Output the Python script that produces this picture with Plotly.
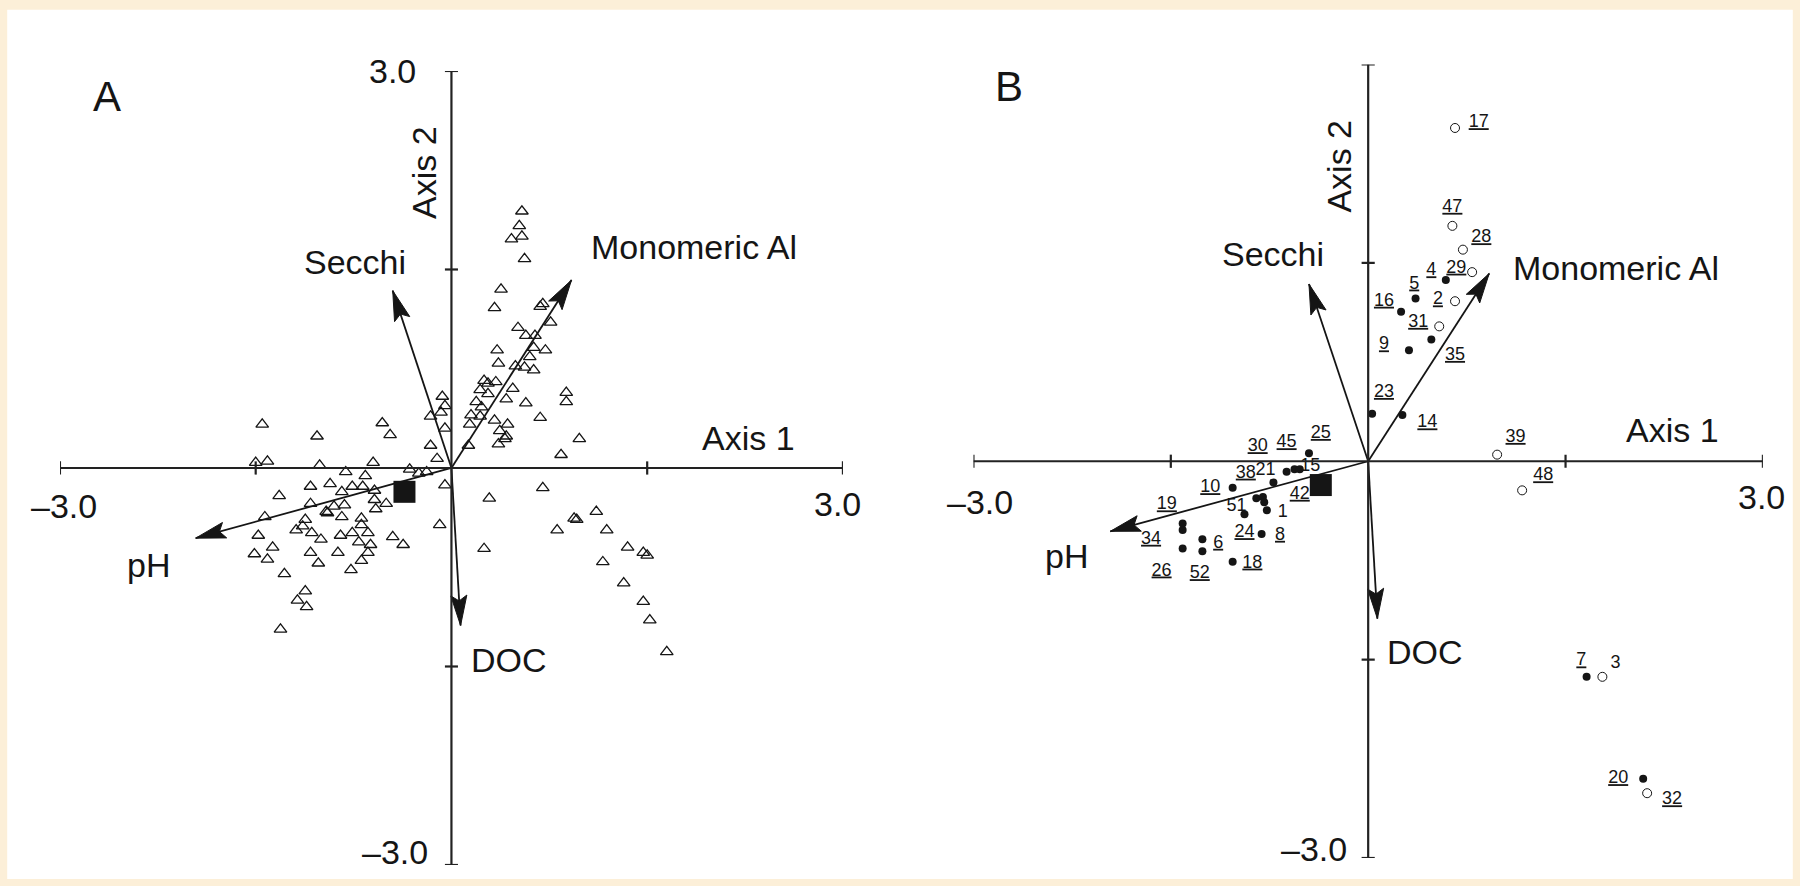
import math
import plotly.graph_objects as go

# ---- panel A: sample sites (triangles) ----
tri_x = [-1.45, -1.03, -0.53, -0.47, -1.50, -1.41, -1.01, -0.60, -0.81, -0.66,
         -0.07, -0.05, -0.08, -0.16, -0.05, -0.16, -0.11, -0.19, -0.32, -0.25,
         -0.05, -0.09, -1.08, -0.93, -1.32, -0.76, -0.68, -0.59, -0.84, -1.08,
         -0.90, -0.82, -0.59, -0.58, -0.95, -0.84, -0.69, -0.50, -1.43, -1.12,
         -1.19, -1.14, -1.07, -1.00, -1.48, -1.37, -1.51, -1.41, -1.08, -1.02,
         -0.87, -0.85, -0.76, -0.69, -0.64, -0.71, -0.62, -0.64, -0.69, -0.77,
         -0.45, -0.37, -1.28, -1.12, -1.18, -1.11, -1.31, -0.96, 0.29, 0.25,
         0.84, 0.70, 0.94, 0.96, 1.11, 0.81, 1.19, 1.35, 1.47, 1.50,
         1.16, 1.32, 1.47, 1.52, 1.65,
         0.54, 0.52, 0.46, 0.54, 0.56, 0.38, 0.33, 0.70, 0.68, 0.76,
         0.51, 0.57, 0.64, 0.63, 0.72, 0.60, 0.35, 0.36, 0.49, 0.56,
         0.63, 0.25, 0.28, 0.34, 0.47, 0.22, 0.28, 0.42, 0.19, 0.57,
         0.23, 0.88, 0.88, 0.15, 0.22, 0.33, 0.43, 0.68, 0.14, 0.37,
         0.42, 0.41, 0.36, 0.13, 0.98]
tri_y = [0.33, 0.24, 0.34, 0.25, 0.04, 0.05, 0.02, 0.04, -0.03, -0.06,
         0.54, 0.47, 0.42, 0.39, 0.30, 0.17, 0.07, -0.03, -0.01, -0.04,
         -0.13, -0.43, -0.14, -0.12, -0.21, -0.14, -0.14, -0.17, -0.18, -0.27,
         -0.29, -0.28, -0.24, -0.31, -0.34, -0.37, -0.38, -0.27, -0.37, -0.39,
         -0.47, -0.44, -0.49, -0.54, -0.51, -0.60, -0.65, -0.69, -0.64, -0.72,
         -0.64, -0.51, -0.49, -0.43, -0.49, -0.56, -0.58, -0.64, -0.70, -0.77,
         -0.52, -0.58, -0.80, -0.93, -1.00, -1.05, -1.22, -0.33, -0.23, -0.61,
         0.10, -0.15, -0.38, -0.39, -0.33, -0.47, -0.47, -0.60, -0.64, -0.66,
         -0.71, -0.87, -1.01, -1.15, -1.39,
         1.94, 1.83, 1.73, 1.75, 1.58, 1.35, 1.21, 1.24, 1.22, 1.10,
         1.06, 1.00, 1.00, 0.91, 0.89, 0.84, 0.89, 0.79, 0.77, 0.76,
         0.74, 0.66, 0.64, 0.65, 0.60, 0.59, 0.56, 0.52, 0.50, 0.49,
         0.46, 0.57, 0.50, 0.40, 0.39, 0.36, 0.33, 0.38, 0.33, 0.28,
         0.24, 0.22, 0.18, 0.17, 0.22]

# ---- panel B: lakes (filled / open circles) ----
filled_x = [0.59, 0.36, 0.25, 0.48, 0.31, 0.03, 0.26, -0.45, 1.66, 2.09,
            -0.62, -0.56, -0.52, -0.72, -1.03, -0.85, -0.80, -0.79, -0.77, -0.94,
            -0.81, -1.41, -1.41, -1.41, -1.26, -1.26, -1.03]
filled_y = [1.37, 1.23, 1.13, 0.92, 0.84, 0.36, 0.35, 0.06, -1.63, -2.40,
            -0.08, -0.06, -0.06, -0.16, -0.20, -0.28, -0.27, -0.31, -0.37, -0.40,
            -0.55, -0.47, -0.52, -0.66, -0.59, -0.68, -0.76]
open_x = [0.66, 0.64, 0.72, 0.79, 0.66, 0.54, 0.98, 1.17, 1.78, 2.12]
open_y = [2.52, 1.78, 1.60, 1.43, 1.21, 1.02, 0.05, -0.22, -1.63, -2.51]

lab_text = ["17", "47", "28", "4", "29", "5", "16", "2", "31", "9", "35", "23", "14",
            "39", "48", "7", "3", "20", "32",
            "30", "45", "25", "15", "38", "21", "10", "19", "34", "26", "52", "6",
            "18", "24", "8", "1", "51", "42"]
lab_x = [0.84, 0.64, 0.86, 0.48, 0.67, 0.35, 0.12, 0.53, 0.38, 0.12, 0.66, 0.12, 0.45,
         1.12, 1.33, 1.62, 1.88, 1.90, 2.31,
         -0.84, -0.62, -0.36, -0.44, -0.93, -0.78, -1.20, -1.53, -1.65, -1.57, -1.28, -1.14,
         -0.88, -0.94, -0.67, -0.65, -1.00, -0.52]
lab_y = [2.56, 1.92, 1.69, 1.44, 1.46, 1.34, 1.21, 1.22, 1.05, 0.88, 0.80, 0.52, 0.29,
         0.18, -0.11, -1.51, -1.53, -2.40, -2.56,
         0.11, 0.14, 0.21, -0.04, -0.09, -0.07, -0.20, -0.33, -0.59, -0.83, -0.85, -0.62,
         -0.77, -0.54, -0.56, -0.39, -0.34, -0.25]
plain_labels = ["3", "1", "21", "15", "51"]

# ---- environmental vectors (same in both panels) ----
arrow_names = ["Secchi", "Monomeric Al", "pH", "DOC"]
arrow_x = [-0.45, 0.92, -1.96, 0.07]
arrow_y = [1.34, 1.42, -0.53, -1.19]
centroid_x = [-0.36]
centroid_y = [-0.18]

tick_vals = [-3, -1.5, 1.5, 3]
tick_text = ["–3.0", "3.0"]

FONT = "Liberation Sans, Arial, sans-serif"
INK = "#151515"
W, H = 1800, 886

domains = [
    {"x": [0.0333, 0.4683], "y": [0.0237, 0.9199]},
    {"x": [0.5408, 0.9794], "y": [0.0316, 0.9272]},
]
panels = [("x", "y"), ("x2", "y2")]

fig = go.Figure()

# triangles in panel A
fig.add_trace(go.Scatter(
    x=tri_x, y=tri_y, mode="markers", xaxis="x", yaxis="y",
    marker={"symbol": "triangle-up-open", "size": 11, "color": INK, "line": {"width": 1.3}},
    showlegend=False, hoverinfo="skip",
))

# circles in panel B
fig.add_trace(go.Scatter(
    x=filled_x, y=filled_y, mode="markers", xaxis="x2", yaxis="y2",
    marker={"symbol": "circle", "size": 8, "color": INK},
    showlegend=False, hoverinfo="skip",
))
fig.add_trace(go.Scatter(
    x=open_x, y=open_y, mode="markers", xaxis="x2", yaxis="y2",
    marker={"symbol": "circle-open", "size": 9, "color": INK, "line": {"width": 1}},
    showlegend=False, hoverinfo="skip",
))
fig.add_trace(go.Scatter(
    x=lab_x, y=lab_y, mode="text", xaxis="x2", yaxis="y2",
    text=[t if t in plain_labels else f"<u>{t}</u>" for t in lab_text],
    textfont={"family": FONT, "size": 18, "color": INK},
    cliponaxis=False, showlegend=False, hoverinfo="skip",
))

shapes = [{"type": "rect", "xref": "paper", "yref": "paper",
           "x0": 0.004, "x1": 0.996, "y0": 0.008, "y1": 0.989,
           "fillcolor": "white", "line": {"width": 0}, "layer": "below"}]
axis_line = {"color": "#222222", "width": 2.2}

head_len, head_half = 30, 8  # arrowhead size in pixels

for (xa, ya), dom in zip(panels, domains):
    # pixels per data unit on this panel
    kx = (dom["x"][1] - dom["x"][0]) * W / 6
    ky = (dom["y"][1] - dom["y"][0]) * H / 6

    for ax_, ay_ in zip(arrow_x, arrow_y):
        fig.add_trace(go.Scatter(
            x=[0, ax_], y=[0, ay_], mode="lines", xaxis=xa, yaxis=ya,
            line={"color": INK, "width": 1.8},
            showlegend=False, hoverinfo="skip",
        ))
        # filled arrowhead built in pixel space, converted back to data units
        px, py = ax_ * kx, ay_ * ky
        n = math.hypot(px, py)
        ux, uy = px / n, py / n
        vx, vy = -uy, ux
        bx, by = px - ux * head_len, py - uy * head_len
        nx, ny = px - ux * head_len * 0.82, py - uy * head_len * 0.82
        pts = [(px, py),
               (bx + vx * head_half, by + vy * head_half),
               (nx, ny),
               (bx - vx * head_half, by - vy * head_half)]
        path = "M " + " L ".join(f"{x / kx:.4f},{y / ky:.4f}" for x, y in pts) + " Z"
        shapes.append({"type": "path", "xref": xa, "yref": ya, "path": path,
                       "fillcolor": INK, "line": {"color": INK, "width": 1}})

    fig.add_trace(go.Scatter(
        x=centroid_x, y=centroid_y, mode="markers", xaxis=xa, yaxis=ya,
        marker={"symbol": "square", "size": 22, "color": INK},
        showlegend=False, hoverinfo="skip",
    ))

    # cross-shaped axes with end/mid ticks
    shapes.append({"type": "line", "xref": xa, "yref": ya, "x0": -3, "x1": 3, "y0": 0, "y1": 0, "line": axis_line})
    shapes.append({"type": "line", "xref": xa, "yref": ya, "x0": 0, "x1": 0, "y0": -3, "y1": 3, "line": axis_line})
    for t in tick_vals:
        shapes.append({"type": "line", "xref": xa, "yref": ya, "x0": t, "x1": t,
                       "y0": -0.05, "y1": 0.05, "line": axis_line})
        shapes.append({"type": "line", "xref": xa, "yref": ya, "x0": -0.05, "x1": 0.05,
                       "y0": t, "y1": t, "line": axis_line})

# text placements (data units) for each panel
panel_text = [
    {"A": (-2.64, 2.81), "Axis 2": (-0.21, 2.23), "Axis 1": (2.28, 0.23),
     "Secchi": (-0.74, 1.56), "Monomeric Al": (1.86, 1.67), "pH": (-2.32, -0.73), "DOC": (0.44, -1.45)},
    {"B": (-2.73, 2.83), "Axis 2": (-0.22, 2.23), "Axis 1": (2.31, 0.24),
     "Secchi": (-0.72, 1.57), "Monomeric Al": (1.88, 1.46), "pH": (-2.29, -0.72), "DOC": (0.43, -1.44)},
]
tick_pos = [
    [(-0.45, 3.0, 1), (-2.97, -0.29, 0), (2.96, -0.27, 1), (-0.43, -2.9, 0)],
    [(-0.45, 3.01, 1), (-2.95, -0.31, 0), (2.99, -0.27, 1), (-0.41, -2.93, 0)],
]

annotations = []
for (xa, ya), texts, ticks in zip(panels, panel_text, tick_pos):
    for txt, (tx, ty) in texts.items():
        annotations.append({
            "x": tx, "y": ty, "xref": xa, "yref": ya, "text": txt, "showarrow": False,
            "textangle": -90 if txt == "Axis 2" else 0,
            "font": {"family": FONT, "size": 42 if len(txt) == 1 else 34, "color": INK},
        })
    for tx, ty, idx in ticks:
        annotations.append({
            "x": tx, "y": ty, "xref": xa, "yref": ya, "text": tick_text[idx], "showarrow": False,
            "font": {"family": FONT, "size": 34, "color": INK},
        })

hidden = {"range": [-3, 3], "visible": False, "fixedrange": True}
fig.update_layout(
    width=W, height=H,
    margin={"l": 0, "r": 0, "t": 0, "b": 0},
    paper_bgcolor="#fcefd8",
    plot_bgcolor="rgba(0,0,0,0)",
    xaxis={**hidden, "domain": domains[0]["x"], "anchor": "y"},
    yaxis={**hidden, "domain": domains[0]["y"], "anchor": "x"},
    xaxis2={**hidden, "domain": domains[1]["x"], "anchor": "y2"},
    yaxis2={**hidden, "domain": domains[1]["y"], "anchor": "x2"},
    shapes=shapes,
    annotations=annotations,
    showlegend=False,
)

fig.write_html("out.html", config={"displayModeBar": False},
               post_script="document.body.style.margin='0';")
